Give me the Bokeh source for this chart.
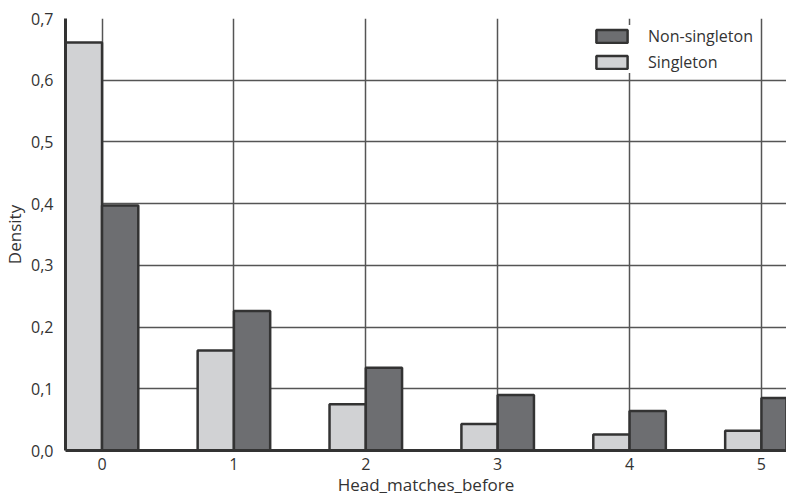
from bokeh.plotting import figure
from bokeh.models import ColumnDataSource, FixedTicker, CustomJSTickFormatter, Legend, LegendItem, Range1d
from bokeh.transform import dodge
from bokeh.embed import file_html
from bokeh.resources import INLINE

categories = [0, 1, 2, 3, 4, 5]
singleton = [0.661, 0.162, 0.075, 0.043, 0.026, 0.032]
non_singleton = [0.397, 0.226, 0.134, 0.090, 0.064, 0.085]
y_ticks = [0.0, 0.1, 0.2, 0.3, 0.4, 0.5, 0.6, 0.7]
y_tick_labels = ["0,0", "0,1", "0,2", "0,3", "0,4", "0,5", "0,6", "0,7"]
x_label = "Head_matches_before"
y_label = "Density"

FONT = "Open Sans"
BAR_W = 0.275

src = ColumnDataSource(dict(x=categories, s=singleton, n=non_singleton))

p = figure(width=786, height=498, output_backend="svg", toolbar_location=None,
           x_range=Range1d(-0.277, 5.19), y_range=Range1d(0, 0.7),
           min_border_left=55, min_border_top=18, min_border_bottom=42, min_border_right=0)
p.outline_line_color = None
p.background_fill_color = "white"
p.border_fill_color = "white"

p.grid.grid_line_color = "#555555"
p.grid.grid_line_width = 1.5
p.xaxis.ticker = FixedTicker(ticks=categories)
p.yaxis.ticker = FixedTicker(ticks=y_ticks)
p.xgrid.ticker = FixedTicker(ticks=categories)
p.ygrid.ticker = FixedTicker(ticks=y_ticks)
p.yaxis.formatter = CustomJSTickFormatter(args=dict(tv=y_ticks, tl=y_tick_labels), code="""
const i = tv.findIndex(t => Math.abs(t - tick) < 1e-9);
return i >= 0 ? tl[i] : '';
""")

for ax in (p.xaxis, p.yaxis):
    ax.axis_line_color = "#333333"
    ax.axis_line_width = 3
    ax.major_tick_line_color = None
    ax.minor_tick_line_color = None
    ax.major_label_text_font = FONT
    ax.major_label_text_font_size = "16px"
    ax.major_label_text_color = "#333333"
    ax.axis_label_text_font = FONT
    ax.axis_label_text_font_size = "17px"
    ax.axis_label_text_font_style = "normal"
    ax.axis_label_text_color = "#333333"
p.xaxis.axis_label = x_label
p.yaxis.axis_label = y_label
p.xaxis.major_label_standoff = 1
p.yaxis.major_label_standoff = 6
p.xaxis.axis_label_standoff = 0
p.yaxis.axis_label_standoff = 2

r_s = p.vbar(x=dodge("x", -BAR_W / 2, range=p.x_range), top="s", width=BAR_W, source=src,
             fill_color="#d1d2d4", line_color="#333333", line_width=2.5)
r_n = p.vbar(x=dodge("x", BAR_W / 2, range=p.x_range), top="n", width=BAR_W, source=src,
             fill_color="#6d6e71", line_color="#333333", line_width=2.5)

legend = Legend(items=[LegendItem(label="Non-singleton", renderers=[r_n]),
                       LegendItem(label="Singleton", renderers=[r_s])],
                location=(527, 377), orientation="vertical")
legend.border_line_color = None
legend.background_fill_color = "white"
legend.background_fill_alpha = 1
legend.padding = 6
legend.margin = 0
legend.spacing = 4
legend.glyph_width = 39
legend.glyph_height = 16
legend.label_height = 16
legend.label_standoff = 17
legend.label_text_font = FONT
legend.label_text_font_size = "16px"
legend.label_text_color = "#333333"
p.add_layout(legend, "center")

open("out.html", "w").write(file_html(p, INLINE))
